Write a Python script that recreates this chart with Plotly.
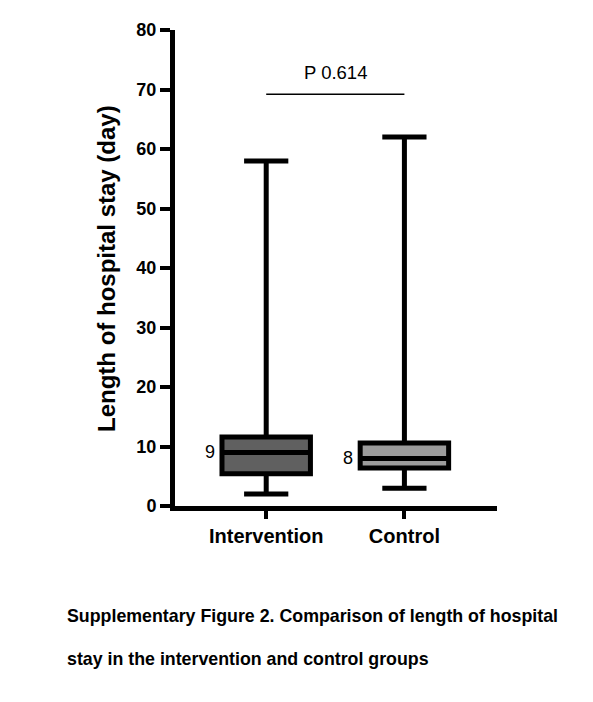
import plotly.graph_objects as go

# group summaries (days)
groups = ["Intervention", "Control"]
q1 = [5.4, 6.4]
median = [9, 8]
q3 = [11.6, 10.6]
low = [2, 3]
high = [58, 62]
fills = ["#606060", "#9c9c9c"]
median_labels = ["9", "8"]
p_text = "P 0.614"
p_y = 69.2

FONT = "Arial, Liberation Sans, sans-serif"

# the page body has an 8px margin, so shift everything up/left by that
OFF = 8
L, T, W, H = 175 - OFF, 26 - OFF, 322, 480


def px_x(x):
    return (x - OFF - L) / W


def px_y(y):
    return (T + H - (y - OFF)) / H


fig = go.Figure()
for i, g in enumerate(groups):
    fig.add_trace(go.Box(
        x=[i],
        q1=[q1[i]], median=[median[i]], q3=[q3[i]],
        lowerfence=[low[i]], upperfence=[high[i]],
        width=0.64, whiskerwidth=0.5,
        fillcolor=fills[i],
        line=dict(color="black", width=5),
        name=g, showlegend=False, hoverinfo="skip",
    ))
    fig.add_annotation(x=i - 0.41, y=median[i], text=median_labels[i],
                       showarrow=False, font=dict(size=18, color="black"))

# significance bar
fig.add_shape(type="line", x0=0, x1=1, y0=p_y, y1=p_y,
              line=dict(color="black", width=1.5))
fig.add_annotation(x=0.5, y=p_y + 3.6, text=p_text, showarrow=False,
                   font=dict(size=18.5, color="black"))

# y title
fig.add_annotation(xref="paper", yref="paper", x=px_x(107), y=px_y(267),
                   xanchor="center", yanchor="middle",
                   text="<b>Length of hospital stay (day)</b>", textangle=-90,
                   showarrow=False, font=dict(size=24, color="black"))

# caption
fig.add_annotation(xref="paper", yref="paper", x=px_x(65), y=px_y(617),
                   xanchor="left", yanchor="middle",
                   text="<b>Supplementary Figure 2. Comparison of length of hospital</b>",
                   showarrow=False, font=dict(size=17.8, color="black"))
fig.add_annotation(xref="paper", yref="paper", x=px_x(65), y=px_y(660),
                   xanchor="left", yanchor="middle",
                   text="<b>stay in the intervention and control groups</b>",
                   showarrow=False, font=dict(size=17.8, color="black"))

fig.update_layout(
    width=593, height=702,
    margin=dict(l=L, r=593 - L - W, t=T, b=702 - T - H),
    paper_bgcolor="white", plot_bgcolor="white",
    font=dict(family=FONT, color="black"),
    xaxis=dict(
        range=[-0.66, 1.67], tickvals=[0, 1],
        ticktext=["<b>%s</b>" % g for g in groups],
        tickfont=dict(size=20),
        showline=True, linecolor="black", linewidth=5,
        ticks="outside", ticklen=8, tickwidth=4, tickcolor="black",
        showgrid=False, zeroline=False,
    ),
    yaxis=dict(
        range=[0, 80], tickvals=list(range(0, 81, 10)),
        ticktext=["<b>%d</b>" % v for v in range(0, 81, 10)],
        tickfont=dict(size=18),
        showline=True, linecolor="black", linewidth=5,
        ticks="outside", ticklen=10, tickwidth=4, tickcolor="black",
        showgrid=False, zeroline=False,
    ),
)

fig.write_html("out.html")
